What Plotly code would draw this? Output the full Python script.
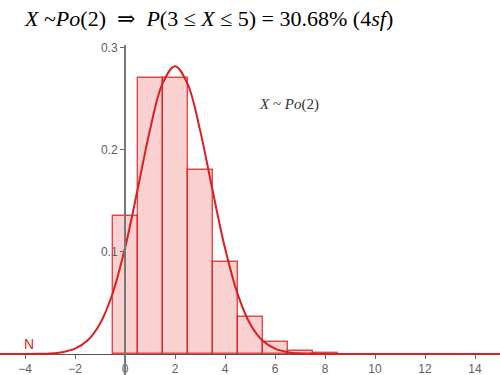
import plotly.graph_objects as go

# Poisson(2) probabilities
k_values = [0, 1, 2, 3, 4, 5, 6, 7, 8]
probabilities = [0.135, 0.271, 0.271, 0.180, 0.090, 0.036, 0.012, 0.0034, 0.0009]

# Normal approximation curve
curve_x = [-5, -4.5, -4, -3.5, -3, -2.5, -2, -1.5, -1, -0.5, 0, 0.5, 1, 1.5, 2,
           2.5, 3, 3.5, 4, 4.5, 5, 5.5, 6, 6.5, 7, 7.5, 8, 8.5, 9, 10, 11, 12, 13, 14, 15]
curve_y = [0.0, 0.0, 0.00003, 0.00015, 0.0005, 0.0018, 0.0052, 0.0132, 0.0297, 0.0591,
           0.1038, 0.1607, 0.2197, 0.2650, 0.2821, 0.2650, 0.2197, 0.1607, 0.1038,
           0.0591, 0.0297, 0.0132, 0.0052, 0.0018, 0.0005, 0.00015, 0.00003, 0.0,
           0.0, 0.0, 0.0, 0.0, 0.0, 0.0, 0.0]

x_ticks = [-4, -2, 0, 2, 4, 6, 8, 10, 12, 14]
y_ticks = [0.1, 0.2, 0.3]
y_tick_text = ["0.1", "0.2", "0.3"]

RED = "rgb(222,30,30)"

fig = go.Figure()
fig.add_trace(go.Bar(
    x=k_values, y=probabilities, width=1,
    marker=dict(color="rgba(235,90,90,0.28)", line=dict(color="rgba(222,30,30,0.8)", width=1.4)),
    hoverinfo="skip",
))
fig.add_trace(go.Scatter(
    x=curve_x, y=curve_y, mode="lines",
    line=dict(color=RED, width=2, shape="spline", smoothing=1.0),
    hoverinfo="skip",
))

ymin, ymax = -0.0206, 0.3029
fig.update_layout(
    width=500, height=375,
    margin=dict(l=0, r=0, t=45, b=0),
    paper_bgcolor="white", plot_bgcolor="white",
    showlegend=False, bargap=0,
    title=dict(
        text="<i>X</i> ~<i>Po</i>(2)  \u21d2  <i>P</i>(3 \u2264 <i>X</i> \u2264 5) = 30.68% (4<i>sf</i>)",
        font=dict(family="Liberation Serif, DejaVu Serif, serif", size=22, color="black"),
        x=0.05, xanchor="left", xref="container",
        y=0.952, yanchor="middle", yref="container",
    ),
    xaxis=dict(
        range=[-5, 15], tickvals=x_ticks, showgrid=False, zeroline=False,
        showline=True, linecolor="#555", linewidth=1.2,
        ticks="outside", ticklen=4, tickcolor="#666",
        tickfont=dict(family="Liberation Sans, Arial, sans-serif", size=12, color="#606060"),
        anchor="free", position=(0 - ymin) / (ymax - ymin), automargin=False,
        layer="below traces",
    ),
    yaxis=dict(
        range=[ymin, ymax], tickvals=y_ticks, ticktext=y_tick_text,
        showgrid=False, zeroline=False,
        showline=True, linecolor="#777", linewidth=2,
        ticks="outside", ticklen=4, tickcolor="#666",
        tickfont=dict(family="Liberation Sans, Arial, sans-serif", size=12, color="#606060"),
        anchor="free", position=0.25, automargin=False,
    ),
)

fig.add_annotation(
    x=6.56, y=0.245, xref="x", yref="y",
    text="<i>X</i> ~ <i>Po</i>(2)", showarrow=False,
    font=dict(family="Liberation Serif, DejaVu Serif, serif", size=15, color="#333"),
)
fig.add_annotation(
    x=-3.85, y=0.0095, xref="x", yref="y",
    text="N", showarrow=False,
    font=dict(family="Liberation Sans, Arial, sans-serif", size=14, color=RED),
)

fig.write_html(
    "out.html",
    config={"displayModeBar": False},
    post_script="document.body.style.margin='0';document.body.style.overflow='hidden';",
)
